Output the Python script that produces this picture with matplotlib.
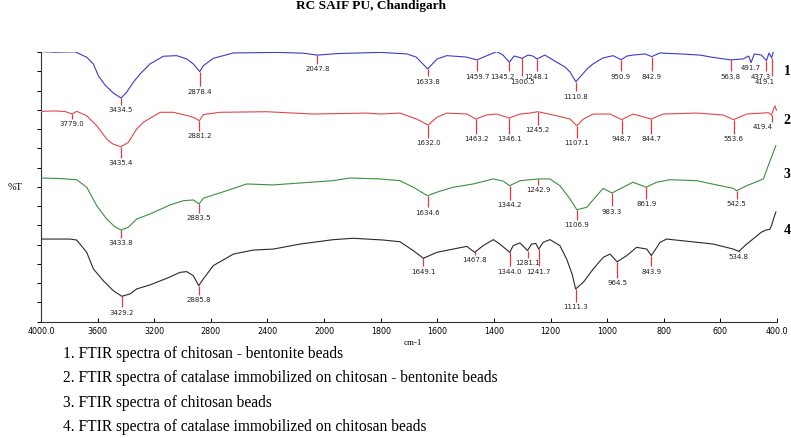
import numpy as np
import matplotlib.pyplot as plt

# wavenumber (cm-1) and offset %T, one pair per spectrum
wn1 = [4000, 3901, 3760, 3677, 3630, 3595, 3548, 3489, 3434.5, 3395, 3348, 3300, 3230, 3136,
       3041, 2971, 2924, 2878.4, 2853, 2783, 2641, 2335, 2150, 2047.8, 1950, 1802, 1708, 1675,
       1633.8, 1601, 1567, 1499, 1459.7, 1428, 1390, 1368, 1345.2, 1329, 1315, 1300.5, 1280,
       1262, 1248.1, 1220, 1178, 1149, 1131, 1110.8, 1089, 1071, 1050, 1015, 979, 950.9, 930,
       909, 866, 842.9, 813, 743, 672, 626, 563.8, 520, 500, 491.7, 480, 455, 437.3, 428,
       419.1, 412]
t1 = [140.2, 139.9, 140.1, 137.3, 133.8, 127.7, 122.9, 118.7, 116.1, 119.1, 124.3, 128.6, 133.8,
      137.8, 138.1, 136.4, 133.8, 129.8, 132.9, 136.7, 139.5, 139.8, 139.4, 138.4, 139.2, 139.8,
      139.0, 137.4, 131.2, 136.4, 138.1, 137.4, 135.9, 137.9, 140.2, 138.4, 134.7, 137.9, 137.4,
      136.7, 138.4, 137.9, 136.4, 138.4, 134.7, 132.2, 129.6, 124.6, 128.1, 131.2, 133.8, 136.9,
      138.1, 136.0, 137.9, 138.4, 139.0, 137.6, 139.5, 139.0, 138.4, 137.2, 135.9, 136.4, 137.9,
      134.5, 139.0, 138.4, 135.5, 139.5, 137.0, 140.5]

wn2 = [4000, 3901, 3830, 3779.0, 3748, 3677, 3606, 3536, 3491, 3435.4, 3383, 3324, 3277, 3159,
       3067, 2959, 2912, 2881.2, 2853, 2735, 2405, 2078, 1850, 1802, 1732, 1673, 1632.0, 1602,
       1567, 1496, 1463.2, 1426, 1390, 1346.1, 1308, 1273, 1245.2, 1190, 1131, 1107.1, 1084,
       1049, 990, 948.7, 908, 844.7, 802, 684, 590, 553.6, 507, 430, 419.4, 412, 407, 402]
t2 = [109.2, 109.4, 109.1, 107.8, 109.2, 106.9, 101.7, 94.8, 92.2, 90.8, 93.1, 100.0, 103.5,
      108.7, 108.7, 106.9, 105.7, 104.3, 107.5, 108.7, 109.0, 107.8, 108.3, 107.8, 108.3, 105.2,
      102.1, 106.1, 108.3, 107.8, 105.2, 107.3, 107.8, 105.7, 107.8, 108.3, 109.0, 107.3, 105.2,
      101.7, 105.2, 107.8, 107.8, 104.9, 107.8, 105.2, 107.8, 108.3, 107.3, 104.9, 107.8, 108.5,
      107.2, 110.5, 112.0, 109.8]

wn3 = [4000, 3866, 3748, 3677, 3606, 3536, 3477, 3433.8, 3383, 3324, 3230, 3089, 2995, 2924,
       2883.5, 2853, 2688, 2547, 2361, 1969, 1909, 1802, 1732, 1685, 1634.6, 1602, 1544, 1473,
       1402, 1368, 1344.2, 1308, 1242.9, 1202, 1167, 1131, 1106.9, 1072, 1037, 1014, 983.3, 955,
       909, 861.9, 825, 778, 684, 554.5, 542.5, 507, 448, 431, 413, 404]
t3 = [74.6, 74.3, 73.7, 69.8, 60.2, 53.3, 49.2, 47.6, 49.0, 53.3, 55.9, 60.6, 62.8, 63.2, 61.1,
      64.1, 68.0, 71.5, 71.0, 73.2, 74.6, 74.1, 73.2, 69.8, 65.4, 67.2, 69.8, 71.5, 74.1, 73.0,
      70.6, 73.2, 74.1, 74.1, 70.6, 63.7, 58.1, 59.4, 65.4, 69.2, 66.8, 68.9, 72.4, 69.8, 72.4,
      73.7, 73.2, 69.2, 68.0, 70.6, 74.1, 81.0, 87.9, 91.4]

wn4 = [4000, 3795, 3748, 3677, 3630, 3560, 3489, 3429.2, 3371, 3324, 3230, 3112, 3018, 2971,
       2924, 2885.8, 2853, 2783, 2641, 2500, 2359, 2170, 1967, 1897, 1791, 1732, 1685, 1649.1,
       1602, 1544, 1496, 1467.8, 1438, 1402, 1379, 1344.0, 1332, 1308, 1281.1, 1267, 1252,
       1241.7, 1226, 1202, 1167, 1143, 1124, 1111.3, 1084, 1049, 1014, 990, 964.5, 931, 896,
       860, 843.9, 813, 790, 625, 554.5, 534.8, 507, 480, 455, 440, 425, 418, 412, 404]
t4 = [42.9, 42.9, 42.4, 36.0, 27.4, 21.3, 16.1, 13.2, 14.4, 17.0, 19.1, 22.5, 25.6, 26.0, 23.9,
      18.7, 22.2, 29.1, 35.1, 37.2, 37.7, 40.3, 42.6, 43.3, 42.4, 41.5, 36.9, 32.9, 36.0, 37.7,
      39.1, 36.0, 39.5, 42.6, 40.3, 36.0, 39.5, 40.9, 36.9, 40.3, 40.6, 37.7, 41.2, 42.6, 39.5,
      32.5, 24.8, 17.0, 20.5, 27.4, 33.4, 35.1, 31.1, 34.3, 38.6, 37.7, 34.3, 41.2, 42.9, 40.3,
      37.7, 36.5, 40.3, 43.5, 46.5, 47.5, 48.0, 50.5, 53.5, 57.0]

# picked peaks and where their labels sit
peaks1 = [3434.5, 2878.4, 2047.8, 1633.8, 1459.7, 1345.2, 1300.5, 1248.1, 1110.8, 950.9,
          842.9, 563.8, 491.7, 437.3, 419.1]
lab1 = [110.4, 120.0, 131.7, 125.1, 127.7, 127.7, 125.1, 127.7, 117.3, 127.7, 127.7, 127.7,
        132.1, 127.7, 125.1]
peaks2 = [3779.0, 3435.4, 2881.2, 1632.0, 1463.2, 1346.1, 1245.2, 1107.1, 948.7, 844.7,
          553.6, 419.4]
lab2 = [103.1, 82.7, 96.9, 93.4, 95.2, 95.2, 100.0, 93.4, 95.2, 95.2, 95.2, 101.6]
peaks3 = [3433.8, 2883.5, 1634.6, 1344.2, 1242.9, 1106.9, 983.3, 861.9, 542.5]
lab3 = [41.5, 54.2, 57.1, 61.1, 68.9, 50.7, 57.6, 61.6, 61.6]
peaks4 = [3429.2, 2885.8, 1649.1, 1467.8, 1344.0, 1281.1, 1241.7, 1111.3, 964.5, 843.9, 534.8]
lab4 = [5.2, 11.8, 26.5, 32.5, 26.5, 30.8, 26.5, 8.0, 20.5, 26.5, 34.1]

xticks = [4000, 3600, 3200, 2800, 2400, 2000, 1800, 1600, 1400, 1200, 1000, 800, 600, 400]
captions = ["1. FTIR spectra of chitosan - bentonite beads",
            "2. FTIR spectra of catalase immobilized on chitosan - bentonite beads",
            "3. FTIR spectra of chitosan beads",
            "4. FTIR spectra of catalase immobilized on chitosan beads"]

# label nudges (points) where the instrument software shifted them
shift = {1345.2: -5, 437.3: -4, 419.1: -5, 419.4: -6}


# expanded scale below 2000 cm-1 (twice as wide per unit)
def fwd(x):
    x = np.asarray(x, float)
    return np.where(x <= 2000, x / 200.0, 10 + (x - 2000) / 400.0)


def inv(g):
    g = np.asarray(g, float)
    return np.where(g <= 10, g * 200.0, 2000 + (g - 10) * 400.0)


serif = "Liberation Serif"
red = "#e0393e"

fig = plt.figure(figsize=(7.91, 4.39), dpi=100)
ax = fig.add_axes([41 / 791, 116.3 / 439, 736 / 791, 269.7 / 439])
ax.set_xscale("function", functions=(fwd, inv))
ax.set_xlim(4000, 400)
ax.set_ylim(0, 140)

spectra = [(wn1, t1, peaks1, lab1, "#3b3bc8"),
           (wn2, t2, peaks2, lab2, "#e04848"),
           (wn3, t3, peaks3, lab3, "#3d8f3d"),
           (wn4, t4, peaks4, lab4, "#2a2a2a")]

for wn, t, peaks, labs, col in spectra:
    ax.plot(wn, t, color=col, lw=0.8, zorder=3)
    for pk, ly in zip(peaks, labs):
        yc = np.interp(pk, wn[::-1], t[::-1])
        ax.vlines(pk, ly + 2.2, yc, color=red, lw=0.9, zorder=2)
        ax.annotate(f"{pk:.1f}", xy=(pk, ly), xytext=(shift.get(pk, 0), 0),
                    textcoords="offset points", ha="center", va="center",
                    fontsize=5, color="#222222")

ax.set_xticks(xticks)
ax.set_xticklabels(["4000.0"] + [str(v) for v in xticks[1:-1]] + ["400.0"],
                   fontsize=5.8)
ax.set_yticks(np.arange(0, 141, 10))
ax.set_yticklabels([])
ax.tick_params(axis="x", direction="in", length=3, width=0.7, pad=3)
ax.tick_params(axis="y", direction="out", length=3, width=0.7)
for s in ["top", "right"]:
    ax.spines[s].set_visible(False)
for s in ["left", "bottom"]:
    ax.spines[s].set_linewidth(0.8)
    ax.spines[s].set_color("#333333")

fig.text(371 / 791, 1 - 6 / 439, "RC SAIF PU, Chandigarh", family=serif,
         fontweight="bold", fontsize=9.6, ha="center", va="center")
fig.text(8 / 791, 1 - 188 / 439, "%T", family=serif, fontsize=7.5, ha="left", va="center")
fig.text(413 / 791, 1 - 343 / 439, "cm-1", family=serif, fontsize=6.5, ha="center",
         va="center")

for i, y in enumerate([71.5, 120.5, 174.5, 231]):
    fig.text(787 / 791, 1 - y / 439, str(i + 1), family=serif, fontweight="bold",
             fontsize=10, ha="center", va="center")

for i, cap in enumerate(captions):
    fig.text(63 / 791, 1 - (354 + 24.5 * i) / 439, cap, family=serif, fontsize=11.2,
             ha="left", va="center")

fig.savefig("out.png", dpi=100)
